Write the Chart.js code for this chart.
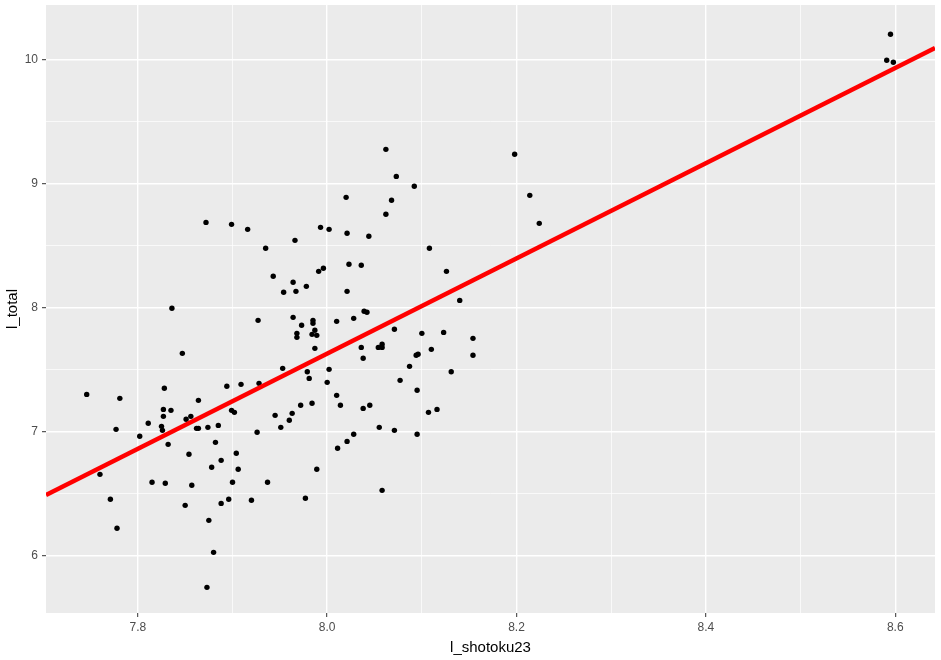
<!DOCTYPE html>
<html>
<head>
<meta charset="utf-8">
<script src="https://cdn.jsdelivr.net/npm/chart.js@4.4.1/dist/chart.umd.min.js"></script>
<style>
  html, body { margin: 0; padding: 0; background: #fff; }
  #plot { display: block; }
</style>
</head>
<body>
<canvas id="plot" width="941" height="660"></canvas>
<script>
// l_shotoku23 (x) and l_total (y)
var shotoku = [
    7.746, 7.781, 7.828, 7.864, 7.827, 7.835, 7.827, 7.856, 7.851, 7.811,
    7.825, 7.826, 7.777, 7.802, 7.862, 7.864, 7.832, 7.854, 7.760, 7.815,
    7.829, 7.857, 7.771, 7.850, 7.778,
    7.894, 7.909, 7.928, 7.953, 7.979, 7.981, 7.899, 7.902, 7.972, 7.984,
    7.945, 7.963, 7.960, 7.951, 7.874, 7.885, 7.926, 7.882, 7.904, 7.888,
    7.878, 7.906, 7.989, 7.900, 7.937, 7.896, 7.888, 7.920, 7.977, 7.875,
    7.880, 7.873,
    8.002,
    8.000, 8.010, 8.014, 8.038, 8.045, 8.077, 8.095, 8.131, 8.107, 8.116,
    8.055, 8.071, 8.095, 8.028, 8.021, 8.011, 8.058,
    7.872, 7.899, 7.916, 7.966, 7.993, 8.002, 7.935, 7.943, 7.964, 7.978,
    7.954, 7.967, 7.991, 7.996, 7.836, 7.847, 7.927, 7.964, 7.973, 7.985,
    7.985, 7.968, 7.968, 7.987, 7.984, 7.989, 7.987,
    8.062, 8.073, 8.092, 8.020, 8.068, 8.062, 8.021, 8.044, 8.198, 8.214,
    8.224, 8.108, 8.023, 8.036, 8.126, 8.021, 8.140, 8.039, 8.042, 8.010,
    8.028, 8.071, 8.100, 8.123, 8.154, 8.036, 8.038, 8.054, 8.058, 8.058,
    8.110, 8.094, 8.096, 8.154, 8.087,
    8.595, 8.591, 8.598
];
var total = [
    7.298, 7.266, 7.347, 7.250, 7.177, 7.169, 7.121, 7.121, 7.097, 7.065,
    7.040, 7.008, 7.016, 6.960, 7.024, 7.024, 6.895, 6.815, 6.653, 6.589,
    6.581, 6.565, 6.452, 6.403, 6.218,
    7.363, 7.379, 7.387, 7.508, 7.481, 7.427, 7.169, 7.153, 7.210, 7.226,
    7.129, 7.145, 7.089, 7.032, 7.032, 7.048, 6.992, 6.911, 6.823, 6.766,
    6.710, 6.694, 6.694, 6.589, 6.589, 6.452, 6.419, 6.444, 6.460, 6.282,
    6.024, 5.742,
    7.500,
    7.395, 7.290, 7.210, 7.185, 7.210, 7.411, 7.331, 7.481, 7.153, 7.177,
    7.032, 7.008, 6.976, 6.976, 6.919, 6.863, 6.524,
    8.685, 8.669, 8.629, 8.540, 8.645, 8.629, 8.476, 8.250, 8.202, 8.169,
    8.121, 8.129, 8.290, 8.315, 7.992, 7.629, 7.895, 7.919, 7.855, 7.895,
    7.871, 7.790, 7.758, 7.815, 7.782, 7.774, 7.669,
    9.274, 9.056, 8.976, 8.887, 8.863, 8.750, 8.597, 8.573, 9.234, 8.903,
    8.677, 8.476, 8.347, 8.339, 8.290, 8.129, 8.056, 7.968, 7.960, 7.887,
    7.911, 7.823, 7.790, 7.798, 7.750, 7.677, 7.589, 7.677, 7.702, 7.677,
    7.661, 7.613, 7.621, 7.613, 7.524,
    10.202, 9.992, 9.976
];

// fitted line, across the whole panel
var fitX = [7.703, 8.642];
var fitY = [6.486, 10.092];

var xMajor = [7.8, 8.0, 8.2, 8.4, 8.6];
var xMinor = [7.9, 8.1, 8.3, 8.5];
var yMajor = [6, 7, 8, 9, 10];
var yMinor = [6.5, 7.5, 8.5, 9.5];

var xRange = [7.703, 8.642];
var yRange = [5.535, 10.438];

function toPoints(xs, ys) {
    return xs.map((x, i) => ({ x: x, y: ys[i] }));
}

function isMajor(list, v) {
    return list.some(m => Math.abs(m - v) < 1e-6);
}

function setTicks(major, minor) {
    return function (scale) {
        scale.ticks = major.concat(minor).sort((a, b) => a - b).map(v => ({ value: v }));
    };
}

// keep chart.js from reserving room for label overhang
function noOverhang(s) {
    s.paddingTop = 0;
    s.paddingBottom = 0;
    s.paddingLeft = 0;
    s.paddingRight = 0;
}

var panelBackground = {
    id: 'panelBackground',
    beforeDraw(chart) {
        var a = chart.chartArea;
        var ctx = chart.ctx;
        ctx.save();
        ctx.fillStyle = '#EBEBEB';
        ctx.fillRect(a.left, a.top, a.right - a.left, a.bottom - a.top);
        ctx.restore();
    }
};

function gridFor(major) {
    return {
        color: '#FFFFFF',
        lineWidth: ctx => (ctx.tick && isMajor(major, ctx.tick.value)) ? 1.4 : 0.7,
        drawTicks: true,
        tickLength: 4,
        tickWidth: 1,
        tickColor: ctx => (ctx.tick && isMajor(major, ctx.tick.value)) ? '#333333' : 'rgba(0,0,0,0)'
    };
}

var tickFont = { family: '"Liberation Sans", Arial, sans-serif', size: 12 };
var titleFont = { family: '"Liberation Sans", Arial, sans-serif', size: 15 };

new Chart('plot', {
    type: 'scatter',
    data: {
        datasets: [{
            type: 'line',
            data: toPoints(fitX, fitY),
            borderColor: '#FF0000',
            borderWidth: 4.5,
            pointRadius: 0,
            fill: false
        }, {
            data: toPoints(shotoku, total),
            pointRadius: 2.7,
            pointBackgroundColor: '#000000',
            pointBorderWidth: 0
        }]
    },
    options: {
        responsive: false,
        animation: false,
        devicePixelRatio: 1,
        layout: { padding: { top: 5, right: 6, left: 0, bottom: 0 } },
        plugins: {
            legend: { display: false },
            tooltip: { enabled: false }
        },
        scales: {
            x: {
                type: 'linear',
                min: xRange[0],
                max: xRange[1],
                afterBuildTicks: setTicks(xMajor, xMinor),
                afterFit: s => { s.height = 47; noOverhang(s); },
                grid: gridFor(xMajor),
                border: { display: false },
                ticks: {
                    autoSkip: false,
                    maxRotation: 0,
                    padding: 3,
                    color: '#4D4D4D',
                    font: tickFont,
                    callback: v => isMajor(xMajor, v) ? v.toFixed(1) : ''
                },
                title: {
                    display: true,
                    text: 'l_shotoku23',
                    color: '#000000',
                    font: titleFont,
                    padding: { top: 0, bottom: 3 }
                }
            },
            y: {
                type: 'linear',
                min: yRange[0],
                max: yRange[1],
                afterBuildTicks: setTicks(yMajor, yMinor),
                afterFit: s => { s.width = 46; noOverhang(s); },
                grid: gridFor(yMajor),
                border: { display: false },
                ticks: {
                    autoSkip: false,
                    padding: 4,
                    color: '#4D4D4D',
                    font: tickFont,
                    callback: v => isMajor(yMajor, v) ? String(v) : ''
                },
                title: {
                    display: true,
                    text: 'l_total',
                    color: '#000000',
                    font: titleFont,
                    padding: { top: 4, bottom: 4 }
                }
            }
        }
    },
    plugins: [panelBackground]
});
</script>
</body>
</html>
